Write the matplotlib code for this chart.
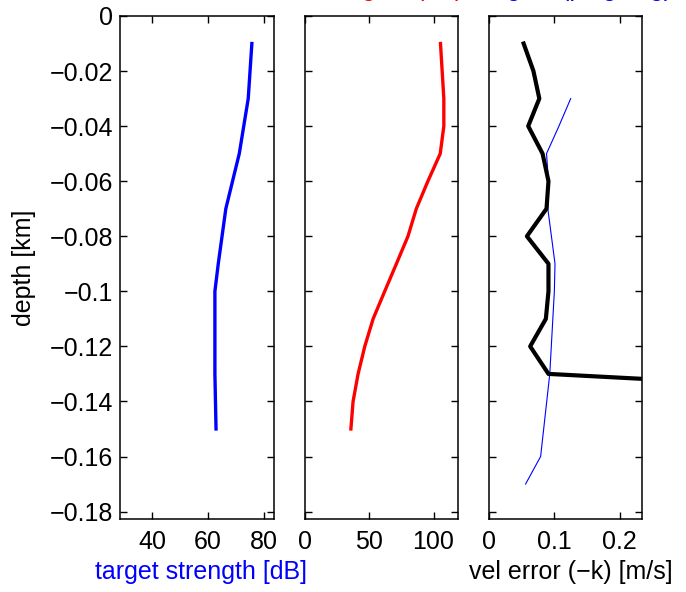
import matplotlib
matplotlib.use('Agg')
import matplotlib.pyplot as plt
import matplotlib.ticker as ticker

plt.rcParams['font.family'] = ['Liberation Sans', 'DejaVu Sans']
plt.rcParams['font.size'] = 18

# target strength profile (blue)
ts_depth = [-0.01, -0.03, -0.05, -0.07, -0.09, -0.10, -0.13, -0.15]
ts_val = [75.7, 74.4, 71.2, 66.4, 63.7, 62.5, 62.5, 62.9]

# middle panel profile (red)
sig_depth = [-0.01, -0.03, -0.04, -0.05, -0.06, -0.07, -0.08, -0.09, -0.10,
             -0.11, -0.12, -0.13, -0.14, -0.15]
sig_val = [105.4, 108.0, 108.0, 105.2, 95.6, 86.6, 80.1, 71.1, 62.0,
           53.0, 46.5, 41.3, 37.4, 35.7]

# velocity error (-k), thick black
ve_depth = [-0.01, -0.02, -0.03, -0.04, -0.05, -0.06, -0.07, -0.08, -0.09,
            -0.10, -0.11, -0.12, -0.13, -0.14]
ve_val = [0.053, 0.068, 0.077, 0.060, 0.082, 0.091, 0.088, 0.058, 0.091,
          0.091, 0.087, 0.063, 0.091, 0.89]

# second velocity error curve, thin blue
ve2_depth = [-0.03, -0.04, -0.05, -0.06, -0.07, -0.09, -0.10, -0.13, -0.16, -0.17]
ve2_val = [0.125, 0.107, 0.088, 0.091, 0.090, 0.101, 0.100, 0.093, 0.079, 0.056]

y_ticks = [0, -0.02, -0.04, -0.06, -0.08, -0.1, -0.12, -0.14, -0.16, -0.18]


def fmt(x, pos):
    return ('%g' % x).replace('-', '\u2212')


fig = plt.figure(figsize=(6.86, 5.92), dpi=100)
bottom, height = 0.1233, 0.8497
ax1 = fig.add_axes([0.1749, bottom, 0.2245, height])
ax2 = fig.add_axes([0.4446, bottom, 0.2230, height])
ax3 = fig.add_axes([0.7128, bottom, 0.2230, height])

ax1.plot(ts_val, ts_depth, color='#0000ff', linewidth=2.4)
ax2.plot(sig_val, sig_depth, color='#ff0000', linewidth=2.4)
ax3.plot(ve2_val, ve2_depth, color='#0000ff', linewidth=0.8)
ax3.plot(ve_val, ve_depth, color='black', linewidth=3.0)

ax1.set_xlim(28.6, 83.6)
ax1.set_xticks([40, 60, 80])
ax2.set_xlim(0, 119)
ax2.set_xticks([0, 50, 100])
ax3.set_xlim(0, 0.234)
ax3.set_xticks([0, 0.1, 0.2])

for ax in (ax1, ax2, ax3):
    ax.set_ylim(-0.1827, 0)
    ax.set_yticks(y_ticks)
    ax.xaxis.set_major_formatter(ticker.FuncFormatter(fmt))
    ax.yaxis.set_major_formatter(ticker.FuncFormatter(fmt))
    ax.tick_params(direction='in', top=True, right=True, length=5, width=1,
                   labelsize=18)
    ax.tick_params(axis='x', pad=8)
    ax.tick_params(axis='y', pad=5)
    for s in ax.spines.values():
        s.set_linewidth(1.1)
    if ax is not ax1:
        ax.set_yticklabels([])

ax1.set_ylabel('depth [km]', fontsize=18, labelpad=10)
fig.text(201 / 686, 1 - 572 / 592, 'target strength [dB]', color='#0000ff',
         ha='center', va='center', fontsize=18)
fig.text(571 / 686, 1 - 572 / 592, 'vel error (\u2212k) [m/s]', color='black',
         ha='center', va='center', fontsize=18)

# title text above the top edge (only descender tips show)
fig.text(362 / 686, 1.0075, 'gain (dB)', color='#ff0000', ha='left',
         va='baseline', fontsize=18)
fig.text(507 / 686, 1.0075, 'gain (ping avg)', color='#0000ff', ha='left',
         va='baseline', fontsize=18)

fig.savefig('out.png', dpi=100)
